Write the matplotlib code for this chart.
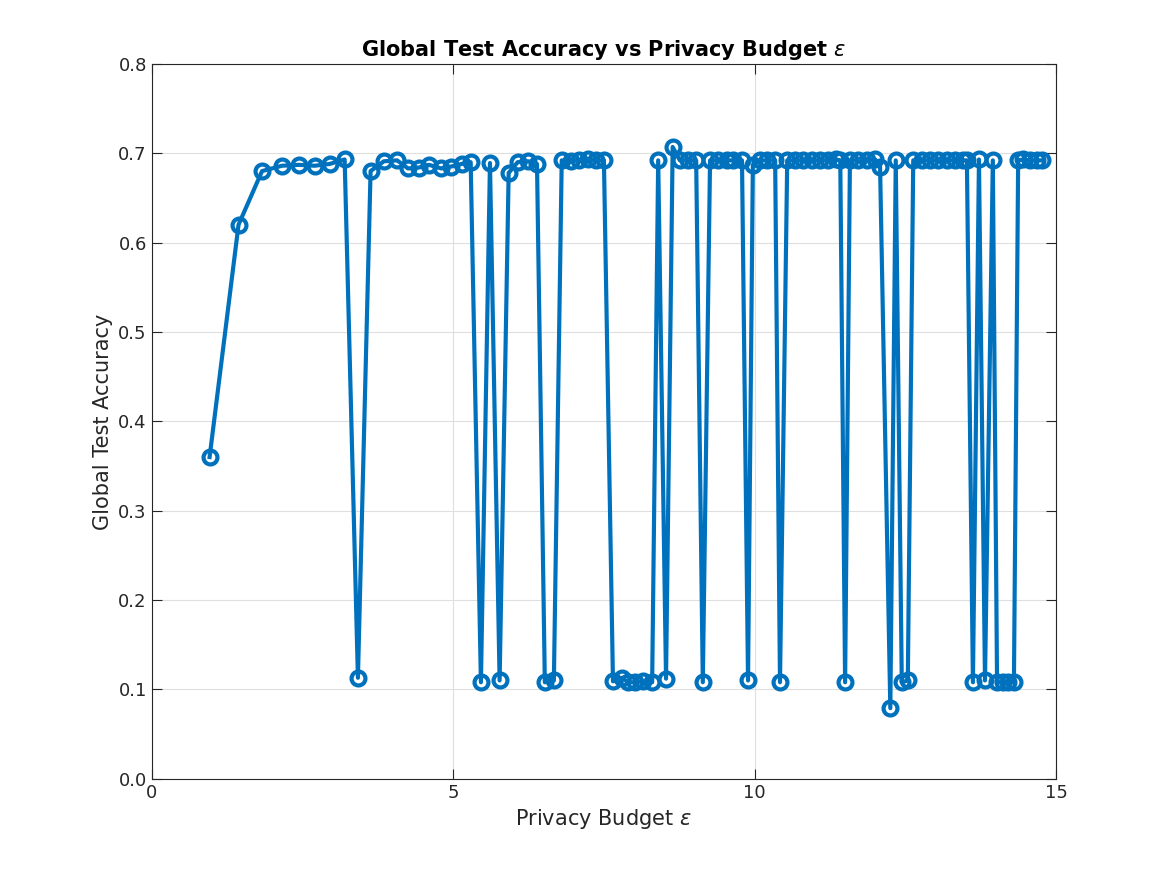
import matplotlib

matplotlib.use("Agg")
import matplotlib.pyplot as plt

# privacy budget (epsilon) and global test accuracy
epsilon = [
    0.96, 1.44, 1.83, 2.16, 2.44, 2.70, 2.95, 3.20, 3.42, 3.63,
    3.85, 4.07, 4.25, 4.43, 4.60, 4.80, 4.96, 5.14, 5.29, 5.46,
    5.61, 5.77, 5.92, 6.07, 6.24, 6.39, 6.52, 6.67, 6.80, 6.95,
    7.08, 7.23, 7.37, 7.50, 7.65, 7.80, 7.90, 8.01, 8.15, 8.30,
    8.40, 8.53, 8.64, 8.76, 8.89, 9.03, 9.14, 9.26, 9.39, 9.54,
    9.64, 9.79, 9.89, 9.97, 10.09, 10.20, 10.34, 10.42, 10.54, 10.67,
    10.80, 10.95, 11.08, 11.22, 11.35, 11.42, 11.50, 11.58, 11.71, 11.86,
    12.00, 12.08, 12.25, 12.34, 12.44, 12.54, 12.63, 12.78, 12.91, 13.04,
    13.19, 13.32, 13.46, 13.52, 13.62, 13.72, 13.82, 13.95, 14.02, 14.12,
    14.20, 14.30, 14.37, 14.45, 14.57, 14.68, 14.77,
]
accuracy = [
    0.360, 0.620, 0.680, 0.686, 0.687, 0.686, 0.688, 0.693, 0.113, 0.680,
    0.691, 0.692, 0.683, 0.684, 0.687, 0.683, 0.685, 0.688, 0.690, 0.108,
    0.689, 0.110, 0.678, 0.690, 0.691, 0.688, 0.108, 0.110, 0.692, 0.691,
    0.692, 0.693, 0.692, 0.692, 0.109, 0.113, 0.108, 0.108, 0.109, 0.108,
    0.692, 0.112, 0.707, 0.692, 0.692, 0.692, 0.108, 0.692, 0.692, 0.692,
    0.692, 0.692, 0.110, 0.687, 0.692, 0.692, 0.692, 0.108, 0.692, 0.692,
    0.692, 0.692, 0.692, 0.692, 0.693, 0.692, 0.108, 0.692, 0.692, 0.692,
    0.693, 0.685, 0.079, 0.692, 0.108, 0.110, 0.692, 0.692, 0.692, 0.692,
    0.692, 0.692, 0.692, 0.692, 0.108, 0.693, 0.110, 0.692, 0.108, 0.108,
    0.108, 0.108, 0.692, 0.693, 0.692, 0.692, 0.692,
]

fig = plt.figure(figsize=(11.67, 8.75), dpi=100)
ax = fig.add_axes([0.130, 0.110, 0.775, 0.817])
ax.plot(epsilon, accuracy, "-o", color="#0072BD", lw=3, ms=10,
        mew=3, mfc="none")
ax.set_xlim(0, 15)
ax.set_ylim(0, 0.8)
ax.set_xticks([0, 5, 10, 15])
ax.set_yticks([i / 10 for i in range(9)])
ax.grid(True, color="#dfdfdf", lw=0.8)
ax.set_axisbelow(True)
ax.tick_params(direction="in", top=True, right=True, labelsize=13,
               length=7, colors="#262626")
for s in ax.spines.values():
    s.set_color("#262626")
ax.set_xlabel(r"Privacy Budget $\epsilon$", fontsize=15, color="#262626")
ax.set_ylabel("Global Test Accuracy", fontsize=15, color="#262626")
ax.set_title(r"Global Test Accuracy vs Privacy Budget $\epsilon$",
             fontsize=15, fontweight="bold")
fig.savefig("out.png", dpi=100)
